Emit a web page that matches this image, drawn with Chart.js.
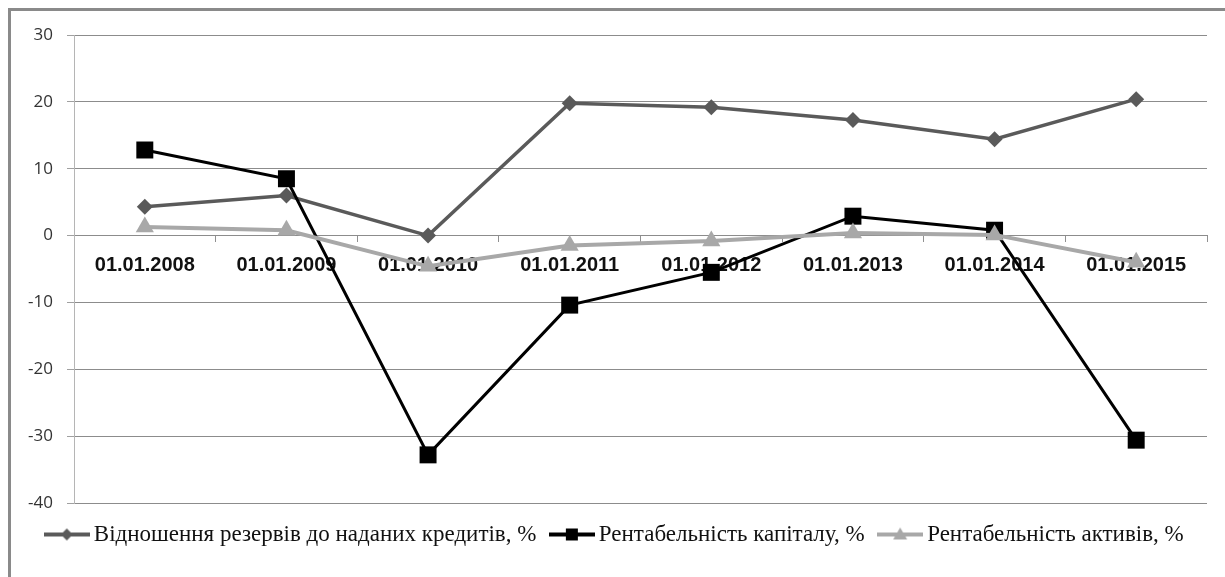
<!DOCTYPE html>
<html><head><meta charset="utf-8">
<script src="https://cdn.jsdelivr.net/npm/chart.js@4.4.0/dist/chart.umd.min.js"></script>
<style>
html,body{margin:0;padding:0;background:#fff;}
#wrap{position:relative;width:1225px;height:577px;overflow:hidden;background:#fff;}
#frame{position:absolute;left:8px;top:8px;width:1400px;height:800px;border-top:3px solid #8a8a8a;border-left:3px solid #8a8a8a;pointer-events:none;}
canvas{position:absolute;left:0;top:0;}
</style></head>
<body><div id="wrap"><canvas id="c" width="1225" height="577"></canvas><div id="frame"></div></div>
<script>
const categories = ['01.01.2008','01.01.2009','01.01.2010','01.01.2011','01.01.2012','01.01.2013','01.01.2014','01.01.2015'];
const reservesToLoans = [4.3, 6.0, 0.0, 19.8, 19.2, 17.3, 14.4, 20.4];
const returnOnEquity = [12.8, 8.5, -32.8, -10.4, -5.5, 2.9, 0.8, -30.6];
const returnOnAssets = [1.3, 0.8, -4.6, -1.5, -0.8, 0.4, 0.1, -4.0];
const yTickLabels = ['30','20','10','0','-10','-20','-30','-40'];
const seriesNames = ['Відношення резервів до наданих кредитів, %','Рентабельність капіталу, %','Рентабельність активів, %'];
const seriesColors = ['#5a5a5a','#000000','#a8a8a8'];

function legendIcon(color, kind, lw) {
  const c = document.createElement('canvas');
  c.width = 46; c.height = 24;
  const g = c.getContext('2d');
  g.strokeStyle = color; g.fillStyle = color; g.lineWidth = lw;
  g.beginPath(); g.moveTo(0, 12); g.lineTo(46, 12); g.stroke();
  g.beginPath();
  if (kind === 'rectRot') { g.moveTo(23, 6); g.lineTo(29, 12); g.lineTo(23, 18); g.lineTo(17, 12); }
  else if (kind === 'rect') { g.rect(17, 6, 12, 12); }
  else { g.moveTo(23, 5); g.lineTo(30, 17); g.lineTo(16, 17); }
  g.closePath(); g.fill();
  return c;
}
const kinds = ['rectRot','rect','triangle'];
const icons = [legendIcon(seriesColors[0], kinds[0], 4), legendIcon(seriesColors[1], kinds[1], 4), legendIcon(seriesColors[2], kinds[2], 4)];

new Chart(document.getElementById('c'), {
  type: 'line',
  data: {
    labels: categories,
    datasets: [
      {label: seriesNames[0], data: reservesToLoans, borderColor: seriesColors[0], backgroundColor: seriesColors[0], borderWidth: 3.5, pointStyle: 'rectRot', pointRadius: 8, pointBorderWidth: 0, order: 3},
      {label: seriesNames[1], data: returnOnEquity, borderColor: seriesColors[1], backgroundColor: seriesColors[1], borderWidth: 3, pointStyle: 'rect', pointRadius: 12, pointBorderWidth: 0, order: 2},
      {label: seriesNames[2], data: returnOnAssets, borderColor: seriesColors[2], backgroundColor: seriesColors[2], borderWidth: 4, pointStyle: 'triangle', pointRadius: 10.5, pointBorderWidth: 0, order: 1}
    ]
  },
  options: {
    responsive: false,
    devicePixelRatio: 1,
    animation: false,
    layout: {padding: {left: 28, right: 18, top: 35, bottom: 21}},
    plugins: {
      tooltip: {enabled: false},
      legend: {
        position: 'bottom',
        labels: {
          usePointStyle: true,
          pointStyleWidth: 31,
          padding: 20,
          color: '#111',
          font: {family: 'Liberation Serif', size: 23, lineHeight: 1.0},
          generateLabels: (chart) => chart.data.datasets.map((ds, i) => ({
            text: ds.label, pointStyle: icons[i], fillStyle: seriesColors[i], strokeStyle: seriesColors[i],
            lineWidth: 0, hidden: false, datasetIndex: i, fontColor: '#111'
          }))
        }
      }
    },
    scales: {
      x: {
        type: 'category',
        offset: true,
        position: {y: 0},
        grid: {offset: true, drawOnChartArea: false, drawTicks: true, tickLength: 6, color: '#909090'},
        border: {display: true, color: '#8c8c8c'},
        ticks: {color: '#111', font: {family: 'Liberation Sans', size: 20, weight: 'bold'}, padding: 12, maxRotation: 0, autoSkip: false}
      },
      y: {
        min: -40, max: 30,
        afterFit: (s) => { s.width = 46; },
        grid: {color: '#8c8c8c', lineWidth: 1, tickLength: 7, tickColor: '#a0a0a0'},
        border: {display: true, color: '#b5b5b5'},
        ticks: {stepSize: 10, padding: 14, color: '#333', font: {family: 'Open Sans', size: 17},
          callback: (v) => yTickLabels[(30 - v) / 10]}
      }
    }
  }
});
</script>
</body></html>
